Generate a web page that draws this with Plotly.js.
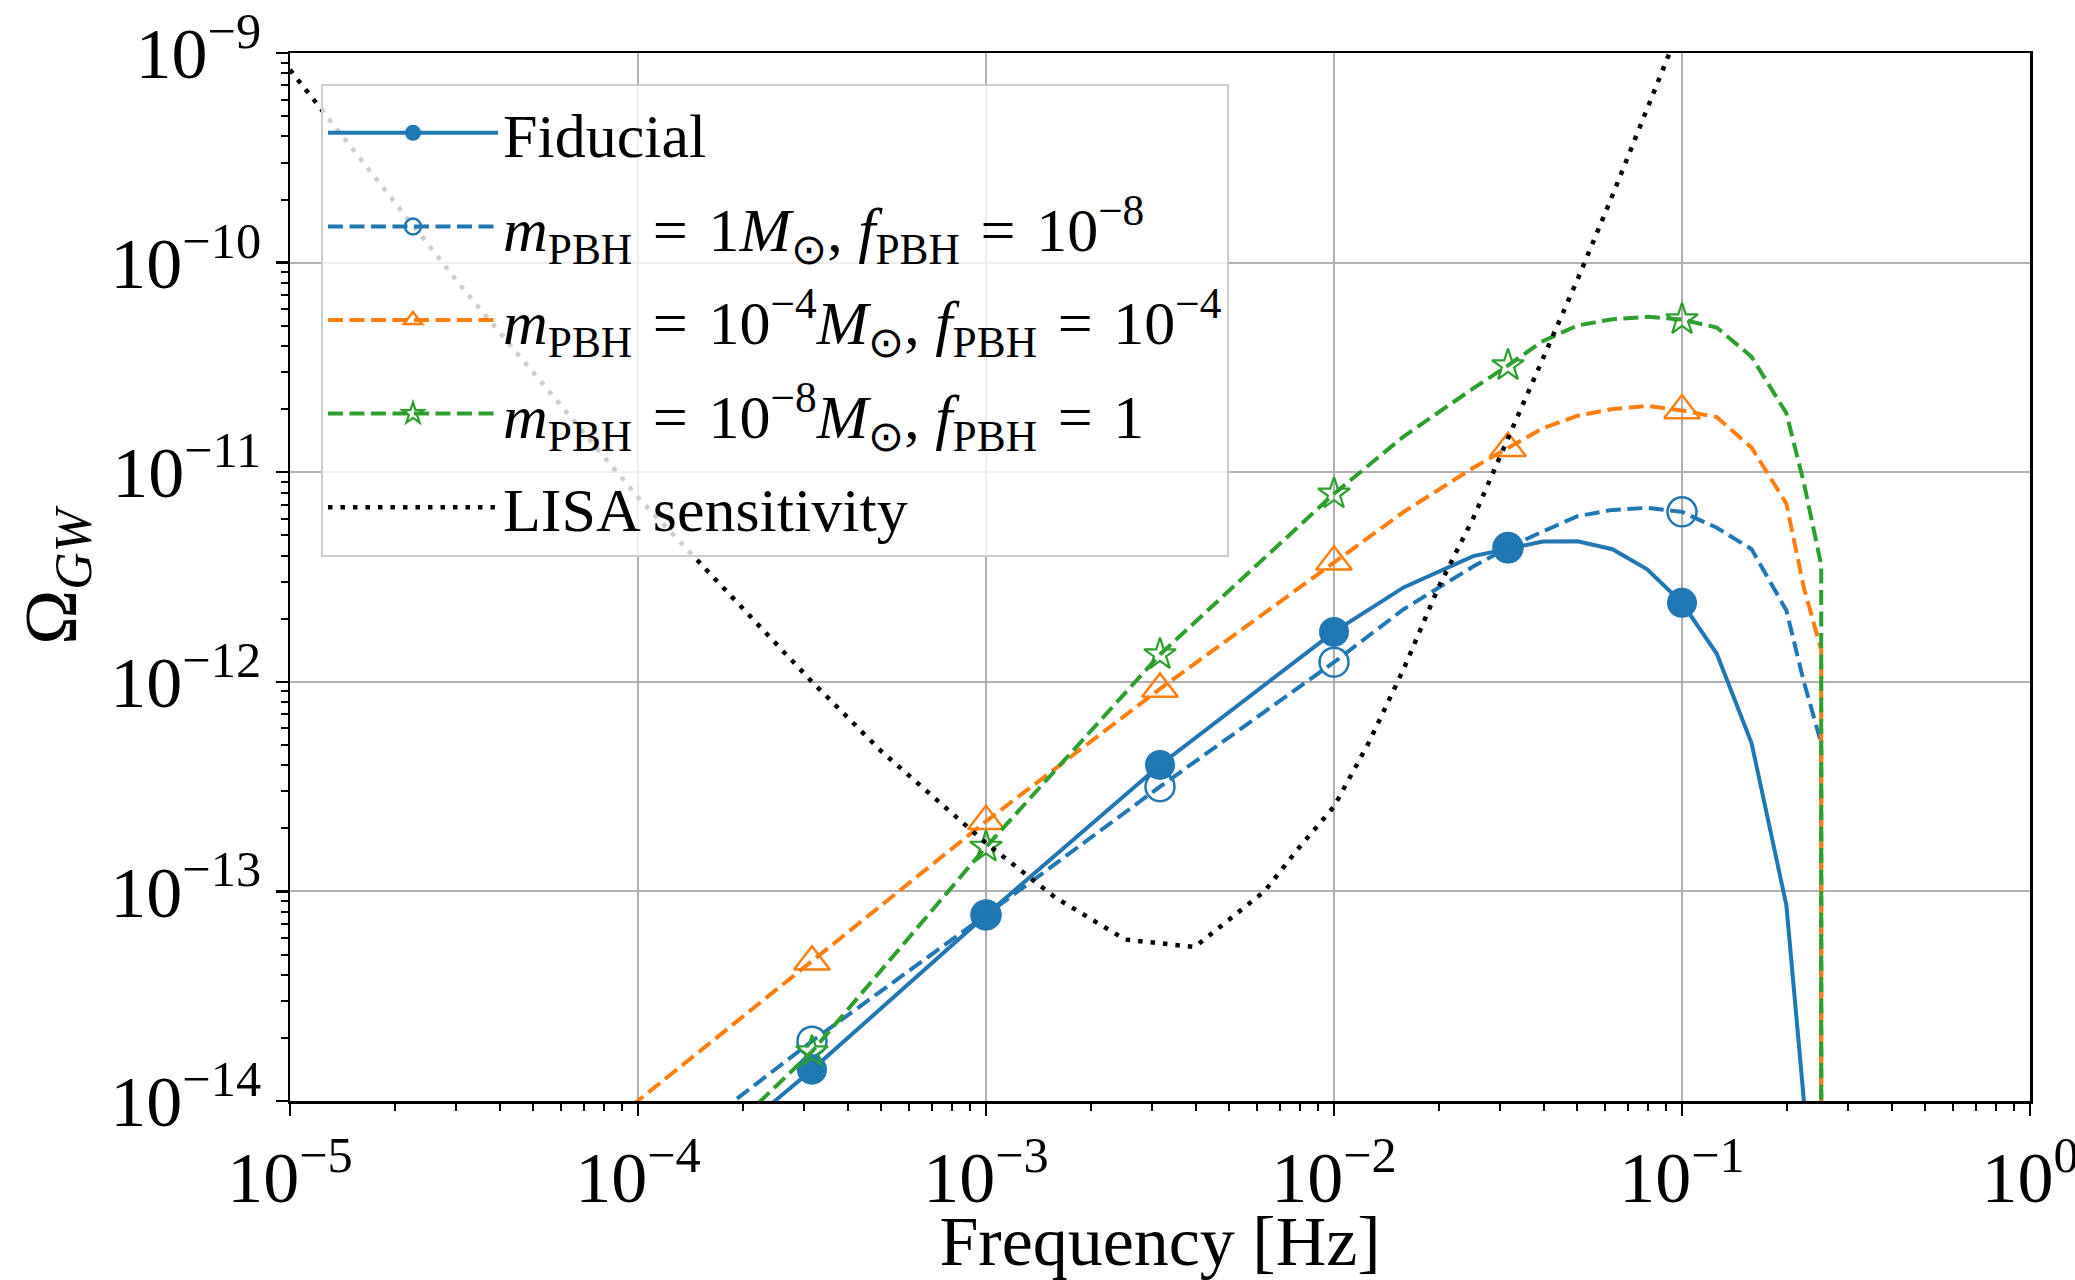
<!DOCTYPE html>
<html>
<head>
<meta charset="utf-8">
<script src="https://cdn.plot.ly/plotly-3.0.1.min.js"></script>
<style>
html, body { margin: 0; padding: 0; background: #ffffff; }
#chart { width: 2075px; height: 1280px; }
</style>
</head>
<body>
<div id="chart"></div>
<script>
// Frequency grid (Hz) shared by the four PBH curves; last entry repeats the cutoff frequency
const freqHz = [3.162e-5, 1e-4, 3.162e-4, 1e-3, 3.162e-3, 1e-2, 1.585e-2, 2.512e-2, 3.162e-2,
                3.981e-2, 5.012e-2, 6.310e-2, 7.943e-2, 0.1, 0.1259, 0.1585, 0.1995, 0.2239, 0.2512, 0.2512];

// Frequencies carrying a marker
const markerFreqHz = [3.162e-4, 1e-3, 3.162e-3, 1e-2, 3.162e-2, 0.1];

// Omega_GW values
const omegaFiducial = [5.62e-16, 2.82e-15, 1.41e-14, 7.71e-14, 4.01e-13, 1.73e-12, 2.82e-12, 3.98e-12, 4.32e-12,
                       4.67e-12, 4.68e-12, 4.29e-12, 3.44e-12, 2.38e-12, 1.36e-12, 5.09e-13, 8.59e-14, 9.5e-15, 1.2e-15, 1e-20];
const omegaM1 = [1.03e-15, 4.47e-15, 1.93e-14, 7.72e-14, 3.16e-13, 1.24e-12, 2.22e-12, 3.55e-12, 4.37e-12,
                 5.21e-12, 6.17e-12, 6.61e-12, 6.76e-12, 6.47e-12, 5.43e-12, 4.29e-12, 2.19e-12, 1.0e-12, 5.1e-13, 1e-20];
const omegaM4 = [2.16e-15, 1.0e-14, 4.62e-14, 2.16e-13, 9.25e-13, 3.74e-12, 6.46e-12, 1.05e-11, 1.30e-11,
                 1.62e-11, 1.86e-11, 2.00e-11, 2.07e-11, 1.97e-11, 1.83e-11, 1.31e-11, 7.08e-12, 2.82e-12, 1.42e-12, 1e-20];
const omegaM8 = [4.37e-16, 2.75e-15, 1.72e-14, 1.63e-13, 1.35e-12, 7.89e-12, 1.48e-11, 2.51e-11, 3.23e-11,
                 4.22e-11, 5.01e-11, 5.37e-11, 5.51e-11, 5.35e-11, 4.90e-11, 3.55e-11, 1.91e-11, 8.91e-12, 3.6e-12, 1e-20];

// LISA sensitivity curve
const lisaFreqHz = [1e-5, 3.162e-5, 1e-4, 3.162e-4, 5.012e-4, 1e-3, 1.585e-3, 2.512e-3, 3.981e-3, 5.012e-3,
                    6.310e-3, 7.943e-3, 1e-2, 1.259e-2, 1.585e-2, 1.995e-2, 2.512e-2, 3.162e-2, 3.981e-2,
                    5.012e-2, 6.310e-2, 7.943e-2, 0.1];
const lisaOmega = [8.32e-10, 7.41e-11, 7.59e-12, 1.0e-12, 4.65e-13, 1.70e-13, 9.33e-14, 5.89e-14, 5.43e-14, 7.41e-14,
                   1.0e-13, 1.62e-13, 2.54e-13, 5.13e-13, 1.15e-12, 2.82e-12, 6.03e-12, 1.45e-11, 3.47e-11,
                   8.32e-11, 2.09e-10, 5.50e-10, 1.41e-9];

const EQ = '\u2004=\u2004';
const seriesNames = [
  'Fiducial',
  '<i>m</i><sub>PBH</sub>' + EQ + '1<i>M</i><sub>⊙</sub>, <i>f</i><sub>PBH</sub>' + EQ + '10<sup>−8</sup>',
  '<i>m</i><sub>PBH</sub>' + EQ + '10<sup>−4</sup><i>M</i><sub>⊙</sub>, <i>f</i><sub>PBH</sub>' + EQ + '10<sup>−4</sup>',
  '<i>m</i><sub>PBH</sub>' + EQ + '10<sup>−8</sup><i>M</i><sub>⊙</sub>, <i>f</i><sub>PBH</sub>' + EQ + '1',
  'LISA sensitivity'
];

const xTickVals = [1e-5, 1e-4, 1e-3, 1e-2, 1e-1, 1];
const xTickText = ['10<sup>−5</sup>', '10<sup>−4</sup>', '10<sup>−3</sup>', '10<sup>−2</sup>', '10<sup>−1</sup>', '10<sup>0</sup>'];
const yTickVals = [1e-14, 1e-13, 1e-12, 1e-11, 1e-10, 1e-9];
const yTickText = ['10<sup>−14</sup>', '10<sup>−13</sup>', '10<sup>−12</sup>', '10<sup>−11</sup>', '10<sup>−10</sup>', '10<sup>−9</sup>'];

// ---------- styling ----------
const C_BLUE = '#1f77b4', C_ORANGE = '#ff7f0e', C_GREEN = '#2ca02c';
const LW = 4;
const DASH = '15px,6.5px';
const DOT = '4.5px,8px';
const FONT = 'Liberation Serif, Times New Roman, serif';

const styles = [
  {color: C_BLUE, dash: 'solid', symbol: 'circle', size: 30, mlw: 0},
  {color: C_BLUE, dash: DASH, symbol: 'circle-open', size: 29, mlw: 2.5},
  {color: C_ORANGE, dash: DASH, symbol: 'triangle-up-open', size: 31, mlw: 2.5},
  {color: C_GREEN, dash: DASH, symbol: 'star-open', size: 24, mlw: 2.2}
];
const omegaSeries = [omegaFiducial, omegaM1, omegaM4, omegaM8];

const traces = [];
omegaSeries.forEach(function (vals, i) {
  const st = styles[i];
  traces.push({
    type: 'scatter', mode: 'lines', x: freqHz, y: vals,
    line: {color: st.color, width: LW, dash: st.dash},
    showlegend: false, hoverinfo: 'skip', legendgroup: 'g' + i
  });
  // marker points only (gaps between them so no line segment is drawn)
  const mx = [], my = [];
  freqHz.forEach(function (f, k) {
    if (markerFreqHz.indexOf(f) >= 0 && k < freqHz.length - 1) { mx.push(f); my.push(vals[k]); }
    mx.push(null); my.push(null);
  });
  traces.push({
    type: 'scatter', mode: 'lines+markers', x: mx, y: my, connectgaps: false,
    name: seriesNames[i], legendgroup: 'g' + i,
    line: {color: st.color, width: LW, dash: st.dash},
    marker: {symbol: st.symbol, size: st.size, color: st.color,
             line: {color: st.color, width: st.mlw}}
  });
});
traces.push({
  type: 'scatter', mode: 'lines', x: lisaFreqHz, y: lisaOmega,
  name: seriesNames[4], legendgroup: 'g4',
  line: {color: '#000000', width: 4.5, dash: DOT}
});

const axisCommon = {
  type: 'log',
  showline: true, linecolor: '#000000', linewidth: 2.5, mirror: true,
  showgrid: true, gridcolor: '#b0b0b0', gridwidth: 2,
  zeroline: false,
  ticks: 'outside', ticklen: 12, tickwidth: 2.5, tickcolor: '#000000',
  tickmode: 'array', ticklabeloverflow: 'allow',
  tickfont: {family: FONT, size: 72, color: '#000000'},
  minor: {ticks: 'outside', ticklen: 7, tickwidth: 2, tickcolor: '#000000', dtick: 'D1', showgrid: false}
};

const layout = {
  width: 2075, height: 1280,
  margin: {l: 290, r: 45, t: 53, b: 179, pad: 0},
  paper_bgcolor: '#ffffff', plot_bgcolor: '#ffffff',
  font: {family: FONT, color: '#000000'},
  showlegend: true,
  xaxis: Object.assign({}, axisCommon, {
    range: [-5, 0], tickvals: xTickVals, ticktext: xTickText,
    title: {text: 'Frequency [Hz]', font: {family: FONT, size: 70, color: '#000000'}, standoff: 16}
  }),
  yaxis: Object.assign({}, axisCommon, {
    range: [-14, -9], tickvals: yTickVals, ticktext: yTickText,
    title: {text: 'Ω<sub><i>GW</i></sub>', font: {family: FONT, size: 74, color: '#000000'}, standoff: 10}
  }),
  legend: {
    x: 0.0178, y: 0.9704, xanchor: 'left', yanchor: 'top',
    bgcolor: 'rgba(255,255,255,0.8)', bordercolor: '#cccccc', borderwidth: 2,
    font: {family: FONT, size: 62, color: '#000000'},
    tracegroupgap: 10, itemwidth: 170
  }
};

Plotly.newPlot('chart', traces, layout, {displayModeBar: false, staticPlot: true});
</script>
</body>
</html>
